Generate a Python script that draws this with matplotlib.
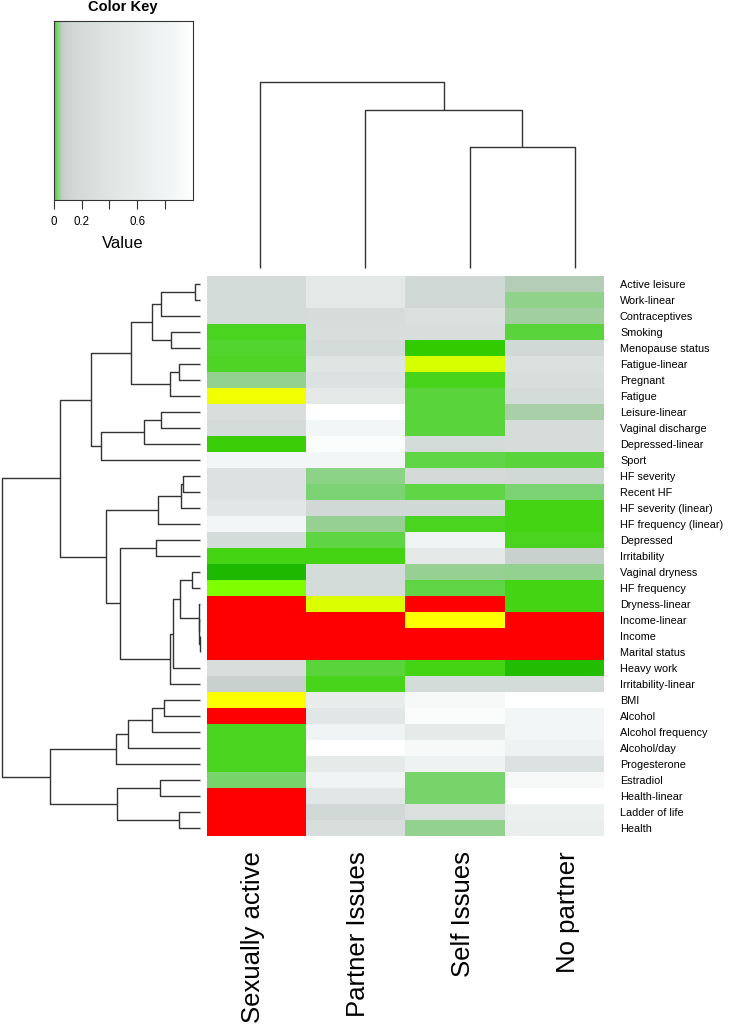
import numpy as np
import matplotlib
matplotlib.use("Agg")
import matplotlib.pyplot as plt
import matplotlib.colors as mcolors
import matplotlib.transforms as mtransforms

plt.rcParams['font.family'] = ['Liberation Sans', 'DejaVu Sans']

## Data: p-values per group (rows in dendrogram order) ##
row_labels = ["Active leisure", "Work-linear", "Contraceptives", "Smoking", "Menopause status",
              "Fatigue-linear", "Pregnant", "Fatigue", "Leisure-linear", "Vaginal discharge",
              "Depressed-linear", "Sport", "HF severity", "Recent HF", "HF severity (linear)",
              "HF frequency (linear)", "Depressed", "Irritability", "Vaginal dryness", "HF frequency",
              "Dryness-linear", "Income-linear", "Income", "Marital status", "Heavy work",
              "Irritability-linear", "BMI", "Alcohol", "Alcohol frequency", "Alcohol/day",
              "Progesterone", "Estradiol", "Health-linear", "Ladder of life", "Health"]
col_labels = ["Sexually active", "Partner Issues", "Self Issues", "No partner"]

sexually_active = [0.2, 0.2, 0.2, 0.004, 0.006, 0.0045, 0.037, 1e-5, 0.25, 0.2,
                   0.0015, 0.85, 0.35, 0.35, 0.45, 0.85, 0.2, 0.003, 4e-4, 1e-4,
                   1e-7, 1e-7, 1e-7, 1e-7, 0.25, 0.08, 4e-6, 1e-7, 0.004, 0.004,
                   0.004, 0.023, 1e-7, 1e-7, 1e-7]
partner_issues = [0.5, 0.5, 0.22, 0.25, 0.2, 0.4, 0.35, 0.5, 1.0, 0.85,
                  0.95, 0.85, 0.034, 0.026, 0.15, 0.039, 0.01, 0.003, 0.2, 0.2,
                  2.5e-5, 1e-7, 1e-7, 1e-7, 0.008, 0.0035, 0.6, 0.45, 0.8, 1.0,
                  0.55, 0.8, 0.45, 0.15, 0.25]
self_issues = [0.15, 0.15, 0.3, 0.25, 0.001, 3e-5, 0.0035, 0.008, 0.008, 0.008,
               0.2, 0.011, 0.18, 0.011, 0.15, 0.004, 0.8, 0.5, 0.039, 0.011,
               1e-7, 4e-6, 1e-7, 1e-7, 0.003, 0.2, 0.9, 0.95, 0.55, 0.9,
               0.75, 0.023, 0.023, 0.3, 0.037]
no_partner = [0.05, 0.036, 0.045, 0.008, 0.15, 0.3, 0.25, 0.2, 0.047, 0.22,
              0.22, 0.008, 0.15, 0.026, 0.003, 0.003, 0.004, 0.08, 0.037, 0.003,
              0.003, 1e-7, 1e-7, 1e-7, 5e-4, 0.2, 1.0, 0.85, 0.85, 0.75,
              0.35, 0.9, 1.0, 0.7, 0.65]

## Dendrograms: (left child, right child, height); ids >= n are earlier merges ##
row_left = [0, 35, 3, 36, 5, 39, 38, 8, 42, 43, 41, 12, 46, 47, 16, 18, 22, 21, 20, 50,
            54, 55, 49, 48, 45, 26, 60, 61, 62, 31, 33, 64, 63, 59]
row_right = [1, 2, 4, 37, 6, 7, 40, 9, 10, 11, 44, 13, 14, 15, 17, 19, 23, 51, 52, 53,
             24, 25, 56, 57, 58, 27, 28, 29, 30, 32, 34, 65, 66, 67]
row_height = [0.025, 0.198, 0.148, 0.244, 0.105, 0.153, 0.348, 0.195, 0.281, 0.501,
              0.551, 0.084, 0.096, 0.212, 0.222, 0.042, 0.002, 0.004, 0.006, 0.101,
              0.138, 0.152, 0.406, 0.476, 0.709, 0.180, 0.241, 0.362, 0.426, 0.202,
              0.105, 0.419, 0.756, 1.0]
col_left = [2, 1, 0]
col_right = [3, 4, 5]
col_height = [0.652, 0.849, 1.0]

## Colour scale: red -> yellow -> greens (p < 0.05) -> grey -> white ##
key_p = [1e-12, 1e-6, 3e-6, 1e-5, 3e-5, 1e-4, 4e-4, 1e-3, 3e-3, 8e-3,
         0.015, 0.025, 0.035, 0.045, 0.05, 0.06, 0.1, 0.3, 0.6, 0.85, 1.0]
key_colors = ['#FF0000', '#FF0000', '#FFFF00', '#F2FF00', '#D8FF00', '#80FF00', '#1DB800',
              '#33CC00', '#44D414', '#5AD63C', '#66D650', '#7AD470', '#8ED38A', '#A2D0A0',
              '#B4CEB6', '#C4CDCB', '#CDD5D3', '#D9E0DE', '#E8EDEC', '#F3F6F6', '#FFFFFF']
key_u = np.linspace(0, 1, len(key_p))
log_key_p = np.log10(key_p)


def forward(p):
    return np.interp(np.log10(np.clip(p, 1e-12, 1.0)), log_key_p, key_u)


def inverse(u):
    return 10 ** np.interp(u, key_u, log_key_p)


norm = mcolors.FuncNorm((forward, inverse), vmin=0, vmax=1)
cmap = mcolors.LinearSegmentedColormap.from_list("pkey", list(zip(key_u, key_colors)), N=2048)

W, H = 752, 1025


def box(x0, y0, x1, y1):
    return [x0 / W, 1 - y1 / H, (x1 - x0) / W, (y1 - y0) / H]


def draw_dendro(ax, left, right, height, n, orient):
    pos = list(np.arange(n) + 0.5)
    hts = [0.0] * n
    for a, b, h in zip(left, right, height):
        xs = [hts[a], h, h, hts[b]]
        ys = [pos[a], pos[a], pos[b], pos[b]]
        if orient == "left":
            ax.plot(xs, ys, color="#333333", lw=1.0, clip_on=False, solid_capstyle="butt")
        else:
            ax.plot(ys, xs, color="#333333", lw=1.0, clip_on=False, solid_capstyle="butt")
        pos.append((pos[a] + pos[b]) / 2)
        hts.append(h)


fig = plt.figure(figsize=(W / 100, H / 100), dpi=100)

values = np.column_stack([sexually_active, partner_issues, self_issues, no_partner])
nrows, ncols = values.shape

## Heatmap ##
ax_heat = fig.add_axes(box(207, 276, 604, 836))
ax_heat.imshow(values, cmap=cmap, norm=norm, aspect="auto", interpolation="nearest",
               extent=(0, ncols, nrows, 0))
ax_heat.set_xticks([])
ax_heat.yaxis.tick_right()
ax_heat.set_yticks(np.arange(nrows) + 0.5)
ax_heat.set_yticklabels(row_labels, fontsize=7.8)
ax_heat.tick_params(axis="y", length=0, pad=11.5)
for s in ax_heat.spines.values():
    s.set_visible(False)

## Row dendrogram ##
ax_row = fig.add_axes(box(2, 276, 200, 836))
draw_dendro(ax_row, row_left, row_right, row_height, nrows, "left")
ax_row.set_xlim(1.0, 0.0)
ax_row.set_ylim(nrows, 0)
ax_row.axis("off")

## Column dendrogram ##
ax_col = fig.add_axes(box(207.5, 82, 627.5, 268))
draw_dendro(ax_col, col_left, col_right, col_height, ncols, "top")
ax_col.set_xlim(0, ncols)
ax_col.set_ylim(0, 1.0)
ax_col.axis("off")

trans = mtransforms.blended_transform_factory(ax_col.transData, fig.transFigure) + \
    mtransforms.ScaledTranslation(-7 / 100, 0, fig.dpi_scale_trans)
for i, lab in enumerate(col_labels):
    fig.text(i + 0.5, 1 - 851 / H, lab, transform=trans, rotation=90,
             ha="center", va="top", fontsize=18.5)

## Colour key ##
ax_key = fig.add_axes(box(54, 21, 192.5, 200))
key_x = (np.arange(600) + 0.5) / 600
ax_key.imshow(key_x[np.newaxis, :], cmap=cmap, norm=norm, aspect="auto",
              interpolation="bilinear", extent=(0, 1, 0, 1))
ax_key.set_xticks([0, 0.2, 0.4, 0.6, 0.8])
ax_key.set_xticklabels(["0", "0.2", "", "0.6", ""], fontsize=8.3)
ax_key.set_yticks([])
ax_key.tick_params(axis="x", length=6.5, width=0.8, pad=5, color="#333333")
for s in ax_key.spines.values():
    s.set_color("#333333")
    s.set_linewidth(0.8)
fig.text(122.5 / W, 1 - 7.5 / H, "Color Key", ha="center", va="center",
         fontsize=10.5, fontweight="bold")
fig.text(122.5 / W, 1 - 243 / H, "Value", ha="center", va="center", fontsize=12)

fig.savefig("out.png", dpi=100)
